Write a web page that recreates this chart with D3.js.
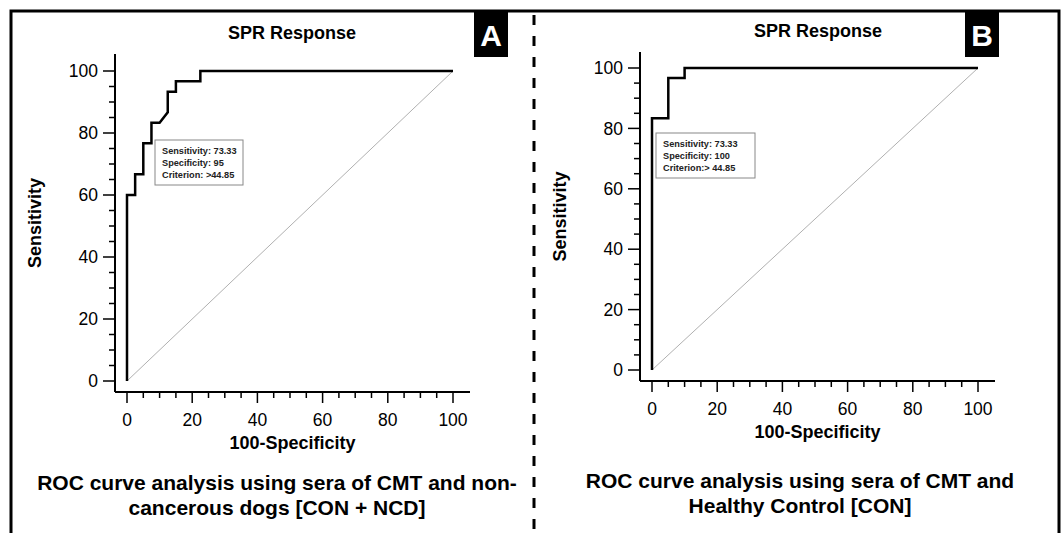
<!DOCTYPE html>
<html>
<head>
<meta charset="utf-8">
<title>ROC SPR Response</title>
<script src="https://d3js.org/d3.v7.min.js"></script>
<style>
  body { margin: 0; background: #fff; }
  svg text { font-family: Arial, "Liberation Sans", sans-serif; }
</style>
</head>
<body>
<svg id="chart"></svg>
<script>
// ROC points (100-Specificity, Sensitivity)
const rocA_fpr  = [0, 0, 2.5, 2.5, 5, 5, 7.5, 7.5, 10, 12.5, 12.5, 15, 15, 22.5, 22.5, 100];
const rocA_sens = [0, 60, 60, 66.67, 66.67, 76.67, 76.67, 83.33, 83.33, 86.67, 93.33, 93.33, 96.67, 96.67, 100, 100];
const rocB_fpr  = [0, 0, 5, 5, 10, 10, 100];
const rocB_sens = [0, 83.33, 83.33, 96.67, 96.67, 100, 100];

const tickValues = [0, 20, 40, 60, 80, 100];
const minorTicks = d3.range(0, 101, 5);

const legendA = ["Sensitivity: 73.33", "Specificity: 95", "Criterion: >44.85"];
const legendB = ["Sensitivity: 73.33", "Specificity: 100", "Criterion:> 44.85"];
const captionA = ["ROC curve analysis using sera of CMT and non-", "cancerous dogs [CON + NCD]"];
const captionB = ["ROC curve analysis using sera of CMT and", "Healthy Control [CON]"];

const width = 1063, height = 533;
const svg = d3.select("#chart").attr("width", width).attr("height", height);

// outer frame
svg.append("path")
  .attr("d", "M11,533 V11 H1059 V533")
  .attr("fill", "none").attr("stroke", "#000").attr("stroke-width", 3);

// dashed separator
svg.append("line")
  .attr("x1", 534).attr("x2", 534).attr("y1", 15).attr("y2", 533)
  .attr("stroke", "#000").attr("stroke-width", 3)
  .attr("stroke-dasharray", "10,11");

function panel(cfg) {
  const x = d3.scaleLinear().domain([0, 100]).range([cfg.x0, cfg.x1]);
  const y = d3.scaleLinear().domain([0, 100]).range([cfg.y0, cfg.y1]);
  const g = svg.append("g");

  // y axis (detached from the plot)
  const yAxisG = g.append("g").attr("transform", `translate(${cfg.yAxisX},0)`);
  yAxisG.append("line")
    .attr("x1", 0).attr("x2", 0).attr("y1", cfg.yAxisTop).attr("y2", cfg.xAxisY)
    .attr("stroke", "#000").attr("stroke-width", 2);
  yAxisG.selectAll(".minor").data(minorTicks).join("line")
    .attr("x1", d => tickValues.includes(d) ? -12 : -6).attr("x2", 0)
    .attr("y1", d => y(d)).attr("y2", d => y(d))
    .attr("stroke", "#000").attr("stroke-width", 1.5);
  yAxisG.selectAll(".lab").data(tickValues).join("text")
    .attr("x", -17).attr("y", d => y(d)).attr("dy", "0.35em")
    .attr("text-anchor", "end").attr("font-size", 17.5).text(d => d);

  // x axis
  const xAxisG = g.append("g").attr("transform", `translate(0,${cfg.xAxisY})`);
  xAxisG.append("line")
    .attr("x1", cfg.yAxisX).attr("x2", cfg.xAxisEnd).attr("y1", 0).attr("y2", 0)
    .attr("stroke", "#000").attr("stroke-width", 2);
  xAxisG.selectAll(".minor").data(minorTicks).join("line")
    .attr("x1", d => x(d)).attr("x2", d => x(d))
    .attr("y1", 0).attr("y2", d => tickValues.includes(d) ? 11 : 6)
    .attr("stroke", "#000").attr("stroke-width", 1.5);
  xAxisG.selectAll(".lab").data(tickValues).join("text")
    .attr("x", d => x(d)).attr("y", 34)
    .attr("text-anchor", "middle").attr("font-size", 17.5).text(d => d);

  // reference diagonal
  g.append("line")
    .attr("x1", x(0)).attr("y1", y(0)).attr("x2", x(100)).attr("y2", y(100))
    .attr("stroke", "#b0b0b0").attr("stroke-width", 1);

  // ROC curve
  const pts = cfg.fpr.map((f, i) => [f, cfg.sens[i]]);
  g.append("path").datum(pts)
    .attr("fill", "none").attr("stroke", "#000").attr("stroke-width", 2.5)
    .attr("stroke-linejoin", "miter")
    .attr("d", d3.line().x(d => x(d[0])).y(d => y(d[1])));

  // legend box
  g.append("rect")
    .attr("x", cfg.legX).attr("y", cfg.legY).attr("width", cfg.legW).attr("height", 45)
    .attr("fill", "#fff").attr("stroke", "#888").attr("stroke-width", 1);
  g.selectAll(".leg").data(cfg.legend).join("text")
    .attr("x", cfg.legX + 7).attr("y", (d, i) => cfg.legY + 14 + i * 12)
    .attr("font-size", 9.2).attr("font-weight", "bold").attr("fill", "#222")
    .text(d => d);

  // title
  g.append("text").attr("x", cfg.titleX).attr("y", cfg.titleY)
    .attr("text-anchor", "middle").attr("font-size", 18).attr("font-weight", "bold")
    .text("SPR Response");

  // panel letter
  g.append("rect").attr("x", cfg.boxX).attr("y", 12).attr("width", 34).attr("height", 45)
    .attr("fill", "#000");
  g.append("text").attr("x", cfg.boxX + 17).attr("y", 46)
    .attr("text-anchor", "middle").attr("font-size", 30).attr("font-weight", "bold")
    .attr("fill", "#fff").text(cfg.letter);

  // axis titles
  g.append("text")
    .attr("x", (cfg.yAxisX + cfg.xAxisEnd) / 2).attr("y", cfg.xAxisY + 57)
    .attr("text-anchor", "middle").attr("font-size", 18).attr("font-weight", "bold")
    .text("100-Specificity");
  g.append("text")
    .attr("transform", `translate(${cfg.ylabX},${(cfg.yAxisTop + cfg.xAxisY) / 2}) rotate(-90)`)
    .attr("text-anchor", "middle").attr("font-size", 18).attr("font-weight", "bold")
    .text("Sensitivity");

  // caption
  g.selectAll(".cap").data(cfg.caption).join("text")
    .attr("x", cfg.capX).attr("y", (d, i) => cfg.capY + i * 25)
    .attr("text-anchor", "middle").attr("font-size", 21).attr("font-weight", "bold")
    .text(d => d);
}

panel({
  fpr: rocA_fpr, sens: rocA_sens, legend: legendA, caption: captionA, letter: "A",
  x0: 127, x1: 453, y0: 381, y1: 71,
  yAxisX: 115, yAxisTop: 54, xAxisY: 392, xAxisEnd: 470,
  legX: 155, legY: 140, legW: 88,
  titleX: 292, titleY: 39, boxX: 474,
  ylabX: 41, capX: 277, capY: 490
});

panel({
  fpr: rocB_fpr, sens: rocB_sens, legend: legendB, caption: captionB, letter: "B",
  x0: 652, x1: 978, y0: 370, y1: 68,
  yAxisX: 640, yAxisTop: 52, xAxisY: 381, xAxisEnd: 995,
  legX: 656, legY: 133, legW: 99,
  titleX: 818, titleY: 37, boxX: 965,
  ylabX: 566, capX: 800, capY: 488
});
</script>
</body>
</html>
